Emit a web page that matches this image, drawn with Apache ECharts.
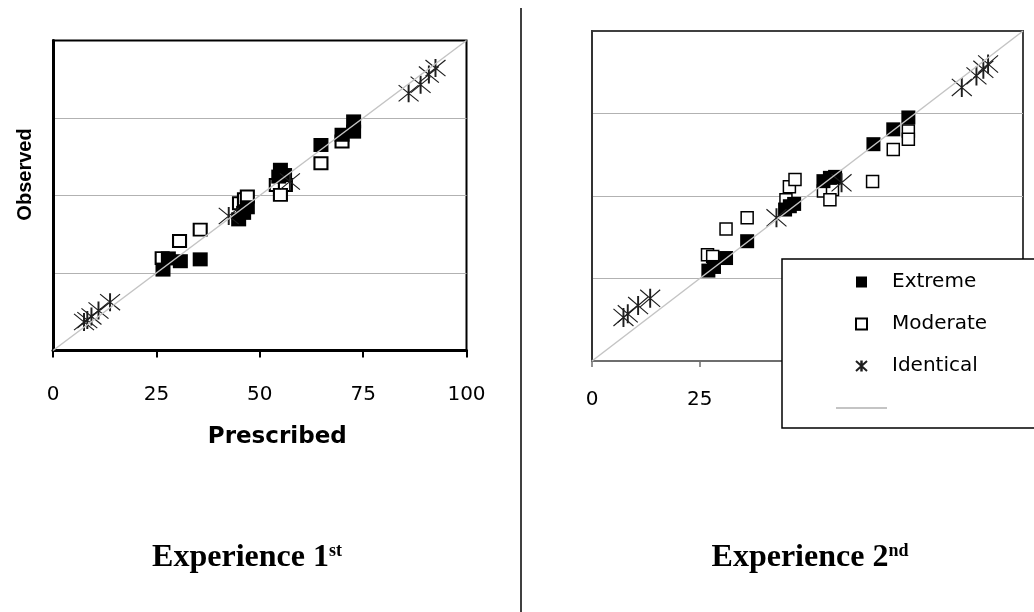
<!DOCTYPE html>
<html>
<head>
<meta charset="utf-8">
<script src="https://cdn.jsdelivr.net/npm/echarts@6/dist/echarts.min.js"></script>
<style>
html,body{margin:0;padding:0;background:#fff;}
#chart{width:1034px;height:612px;}
</style>
</head>
<body>
<div id="chart"></div>
<script>
// ---------- data ----------
const tickValues = [0, 25, 50, 75, 100];
const tickLabels = ['0', '25', '50', '75', '100'];
const seriesNames = ['Extreme', 'Moderate', 'Identical', ' '];
const identityLine = [[0, 0], [100, 100]];

// Experience 1st  [prescribed, observed]
const exp1Extreme = [[26.6,26.1],[27.9,29.7],[30.8,28.8],[35.6,29.4],[44.9,42.3],[46.1,44.4],[47,46.2],
  [55,58.3],[54.6,56.1],[56,56.6],[64.8,66.3],[69.9,69.6],[72.7,73.9],[72.7,70.6]];
const exp1Moderate = [[26.4,29.8],[30.6,35.3],[35.6,39],[45.1,47.5],[46.3,48.8],[47,49.7],
  [54,53.4],[56.2,53.4],[55,50.2],[64.8,60.4],[69.9,67.4]];
const exp1Identical = [[7.5,9.2],[8.3,9.8],[9.3,11],[11,12.9],[13.8,15.6],[42.5,43.4],[57.3,54.5],
  [86,83],[88.9,85.7],[90.9,89],[92.5,91.1]];

// Experience 2nd
const exp2Extreme = [[27,27.4],[28.3,28.5],[31.1,31.2],[36,36.3],[44.8,45.9],[45.9,46.9],[46.9,47.6],
  [53.7,54.5],[55.2,55.5],[56.4,55.8],[65.3,65.7],[69.9,70.2],[73.4,73.8]];
const exp2Moderate = [[26.8,32.2],[28,31.7],[31.1,40],[36,43.4],[45,48.9],[45.8,52.8],[47.1,55],
  [53.7,51.5],[55.8,52],[55.2,48.9],[65.1,54.4],[69.9,64.1],[73.4,69.7],[73.4,67.2]];
const exp2Identical = [[7.3,13.2],[8.3,14.3],[10.7,16.8],[13.5,19],[42.8,43.4],[57.9,54],
  [85.8,82.9],[89.2,86.4],[90.8,88.4],[91.9,90]];

const titleTexts = [['Experience 1', 'st'], ['Experience 2', 'nd']];
const axisNames = { x: 'Prescribed', y: 'Observed' };

// ---------- styling ----------
const SANS = "'DejaVu Sans', 'Liberation Sans', sans-serif";
const SERIF = "'Liberation Serif', 'DejaVu Serif', serif";
const squareIcon = 'path://M0,0H10V10H0Z';
const lineIcon = 'path://M0,0H50V2H0Z';
const starPath = 'path://M9.6,0L9.6,20M10.4,0L10.4,20M0,1L20,19M0,19L20,1';

function tickFmt(v) {
  const i = tickValues.indexOf(v);
  return i >= 0 ? tickLabels[i] : '';
}

function chartSeries(gi, extreme, moderate, identical, sq, sqBorder, star) {
  return [
    { name: seriesNames[1], type: 'scatter', xAxisIndex: gi, yAxisIndex: gi, data: moderate,
      symbol: 'rect', symbolSize: sqBorder.size,
      itemStyle: { color: '#fff', borderColor: '#000', borderWidth: sqBorder.width, opacity: 1 } },
    { name: seriesNames[0], type: 'scatter', xAxisIndex: gi, yAxisIndex: gi, data: extreme,
      symbol: 'rect', symbolSize: sq,
      itemStyle: { color: '#000', opacity: 1 } },
    { name: seriesNames[2], type: 'scatter', xAxisIndex: gi, yAxisIndex: gi, data: identical,
      symbol: starPath, symbolSize: star,
      itemStyle: { color: '#000', borderColor: '#1e1e1e', borderWidth: 1.1, opacity: 1 } },
    { name: seriesNames[3], type: 'line', xAxisIndex: gi, yAxisIndex: gi, data: identityLine,
      symbol: 'none', itemStyle: { color: '#c4c4c4' }, lineStyle: { color: '#c4c4c4', width: 1.5 } }
  ];
}

const richTitle = {
  a: { fontFamily: SERIF, fontWeight: 'bold', fontSize: 32, color: '#000' },
  b: { fontFamily: SERIF, fontWeight: 'bold', fontSize: 18, color: '#000', verticalAlign: 'top' }
};

const option = {
  animation: false,
  backgroundColor: '#fff',
  title: [
    { text: '{a|' + titleTexts[0][0] + '}{b|' + titleTexts[0][1] + '}', left: 242, top: 537, textAlign: 'center',
      textStyle: { rich: richTitle } },
    { text: '{a|' + titleTexts[1][0] + '}{b|' + titleTexts[1][1] + '}', left: 805, top: 537, textAlign: 'center',
      textStyle: { rich: richTitle } }
  ],
  grid: [
    { left: 53, top: 40.5, width: 413.5, height: 310, show: true, borderColor: '#000', borderWidth: 2,
      backgroundColor: '#fff', containLabel: false, outerBoundsMode: 'none' },
    { left: 592, top: 31, width: 431, height: 330, show: true, borderColor: '#404040', borderWidth: 2,
      backgroundColor: '#fff', containLabel: false, outerBoundsMode: 'none' }
  ],
  xAxis: [
    { gridIndex: 0, type: 'value', min: 0, max: 100, interval: 25,
      name: axisNames.x, nameLocation: 'middle', nameGap: 75,
      nameTextStyle: { fontFamily: SANS, fontWeight: 'bold', fontSize: 23, color: '#000', padding: [0, 0, 0, 35] },
      axisLine: { show: true, lineStyle: { color: '#000', width: 3 } },
      axisTick: { show: true, inside: false, length: 7, lineStyle: { color: '#000', width: 2 } },
      axisLabel: { show: true, margin: 34, fontFamily: SANS, fontSize: 20, color: '#000', formatter: tickFmt },
      splitLine: { show: false } },
    { gridIndex: 1, type: 'value', min: 0, max: 100, interval: 25,
      axisLine: { show: true, lineStyle: { color: '#6e6e6e', width: 2 } },
      axisTick: { show: true, inside: false, length: 6, lineStyle: { color: '#6e6e6e', width: 1.5 } },
      axisLabel: { show: true, margin: 29, fontFamily: SANS, fontSize: 20, color: '#000', formatter: tickFmt },
      splitLine: { show: false } }
  ],
  yAxis: [
    { gridIndex: 0, type: 'value', min: 0, max: 100, interval: 25,
      name: axisNames.y, nameLocation: 'middle', nameRotate: 90, nameGap: 18,
      nameTextStyle: { fontFamily: "'Liberation Sans', Arial, sans-serif",
        fontWeight: 'bold', fontSize: 20, color: '#000', padding: [0, 0, 0, 42] },
      axisLine: { show: true, lineStyle: { color: '#000', width: 3 } },
      axisTick: { show: false },
      axisLabel: { show: false },
      splitLine: { show: true, showMinLine: false, showMaxLine: false, lineStyle: { color: '#b2b2b2', width: 1 } } },
    { gridIndex: 1, type: 'value', min: 0, max: 100, interval: 25,
      axisLine: { show: true, lineStyle: { color: '#333', width: 2 } },
      axisTick: { show: false },
      axisLabel: { show: false },
      splitLine: { show: true, showMinLine: false, showMaxLine: false, lineStyle: { color: '#b2b2b2', width: 1 } } }
  ],
  legend: {
    orient: 'vertical',
    left: 782, top: 259,
    padding: [13, 80, 10, 54],
    itemWidth: 51, itemHeight: 11, itemGap: 22,
    backgroundColor: '#fff', borderColor: '#000', borderWidth: 1.5,
    selectedMode: false,
    textStyle: { fontFamily: SANS, fontSize: 20, color: '#000' },
    data: [
      { name: seriesNames[0], icon: squareIcon },
      { name: seriesNames[1], icon: squareIcon },
      { name: seriesNames[2], icon: starPath },
      { name: seriesNames[3], icon: lineIcon, itemStyle: { color: '#c4c4c4' } }
    ]
  },
  graphic: [
    { type: 'line', shape: { x1: 521, y1: 8, x2: 521, y2: 612 }, style: { stroke: '#000', lineWidth: 1.5 }, silent: true }
  ],
  series: [].concat(
    chartSeries(0, exp1Extreme, exp1Moderate, exp1Identical, [15, 14], { size: [13, 12], width: 2 }, [20, 18]),
    chartSeries(1, exp2Extreme, exp2Moderate, exp2Identical, [14, 14], { size: [12, 12], width: 1.5 }, [20, 19])
  )
};

const chart = echarts.init(document.getElementById('chart'), null, { renderer: 'canvas' });
chart.setOption(option);
</script>
</body>
</html>
